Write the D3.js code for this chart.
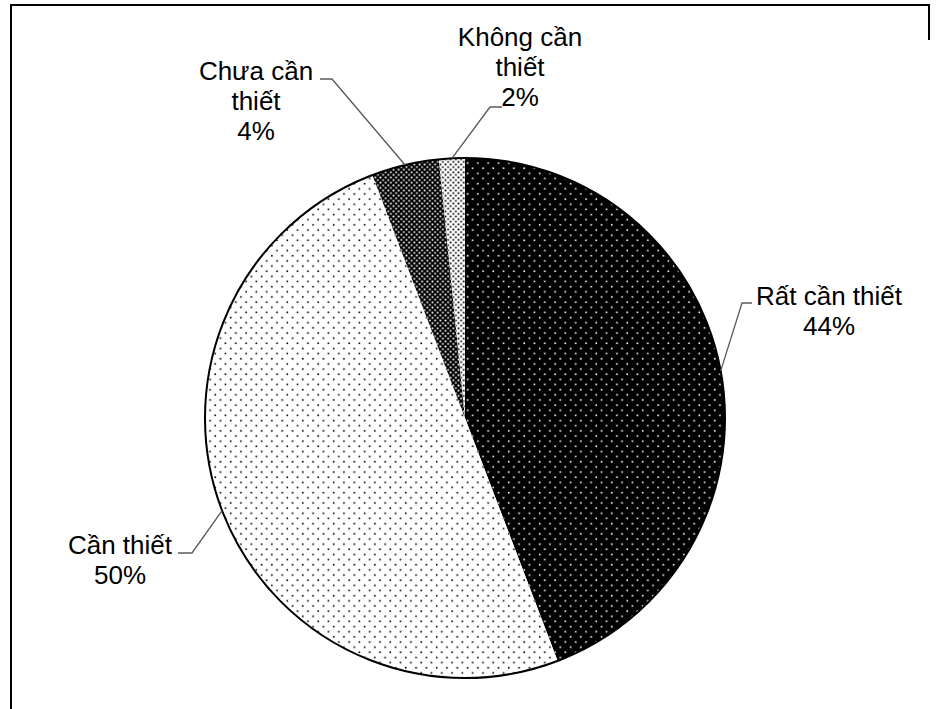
<!DOCTYPE html>
<html>
<head>
<meta charset="utf-8">
<script src="https://cdn.jsdelivr.net/npm/d3@7"></script>
<style>
  html, body { margin: 0; padding: 0; background: #fff; }
  svg { display: block; }
  text { font-family: "Liberation Sans", Arial, sans-serif; }
</style>
</head>
<body>
<svg id="chart" width="937" height="709"></svg>
<script>
// ---- data ----
const categories = ["Rất cần thiết", "Cần thiết", "Chưa cần thiết", "Không cần thiết"];
const values = [44.2, 50.0, 4.2, 1.6];
const labelLines = [["Rất cần thiết"], ["Cần thiết"], ["Chưa cần", "thiết"], ["Không cần", "thiết"]];

// ---- layout ----
const W = 937, H = 709;
const cx = 465, cy = 418, R = 260;
const fontSize = 26, lineH = 30;
// label anchor (center x, first baseline y), elbow point, horizontal end
const labelLayout = [
  { x: 829, y: 305, elbow: [742, 303], end: [752, 303] },
  { x: 120, y: 554, elbow: [192, 553], end: [178, 553] },
  { x: 256, y: 80,  elbow: [332, 79],  end: [320, 79] },
  { x: 520, y: 46,  elbow: [490, 107], end: [502, 107] }
];

const svg = d3.select("#chart");
const defs = svg.append("defs");

function dotPattern(id, size, bg, fg, r) {
  const p = defs.append("pattern").attr("id", id)
    .attr("patternUnits", "userSpaceOnUse")
    .attr("width", size).attr("height", size);
  p.append("rect").attr("width", size).attr("height", size).attr("fill", bg);
  [[0.25, 0.25], [0.75, 0.75]].forEach(([a, b]) => {
    p.append("rect").attr("x", a * size - r / 2).attr("y", b * size - r / 2)
      .attr("width", r).attr("height", r).attr("fill", fg);
  });
}
dotPattern("pRat", 10.3, "#000", "#fff", 1.6);
dotPattern("pCan", 10.3, "#fff", "#000", 1.6);
dotPattern("pChua", 5.2, "#000", "#fff", 1.7);
dotPattern("pKhong", 5.2, "#fff", "#000", 1.7);
const fills = ["url(#pRat)", "url(#pCan)", "url(#pChua)", "url(#pKhong)"];

// frame
svg.append("path")
  .attr("d", `M11,${H + 5} L11,5 L929,5 L929,40`)
  .attr("fill", "none").attr("stroke", "#000").attr("stroke-width", 2);

const pie = d3.pie().sort(null).value(d => d)(values);
const arc = d3.arc().innerRadius(0).outerRadius(R);
const g = svg.append("g").attr("transform", `translate(${cx},${cy})`);

g.selectAll("path.slice").data(pie).enter().append("path")
  .attr("class", "slice")
  .attr("d", arc)
  .attr("fill", (d, i) => fills[i]);

// outer outline
g.append("circle").attr("r", R).attr("fill", "none")
  .attr("stroke", "#000").attr("stroke-width", 2);

// leader lines and labels
pie.forEach((d, i) => {
  const mid = (d.startAngle + d.endAngle) / 2;
  const px = cx + R * Math.sin(mid), py = cy - R * Math.cos(mid);
  const L = labelLayout[i];
  svg.append("polyline")
    .attr("points", `${px},${py} ${L.elbow[0]},${L.elbow[1]} ${L.end[0]},${L.end[1]}`)
    .attr("fill", "none").attr("stroke", "#595959").attr("stroke-width", 1.3);
  const lines = labelLines[i].concat([Math.round(values[i]) + "%"]);
  const t = svg.append("text").attr("text-anchor", "middle")
    .attr("font-size", fontSize).attr("fill", "#000");
  lines.forEach((s, k) => {
    t.append("tspan").attr("x", L.x).attr("y", L.y + k * lineH).text(s);
  });
});
</script>
</body>
</html>
